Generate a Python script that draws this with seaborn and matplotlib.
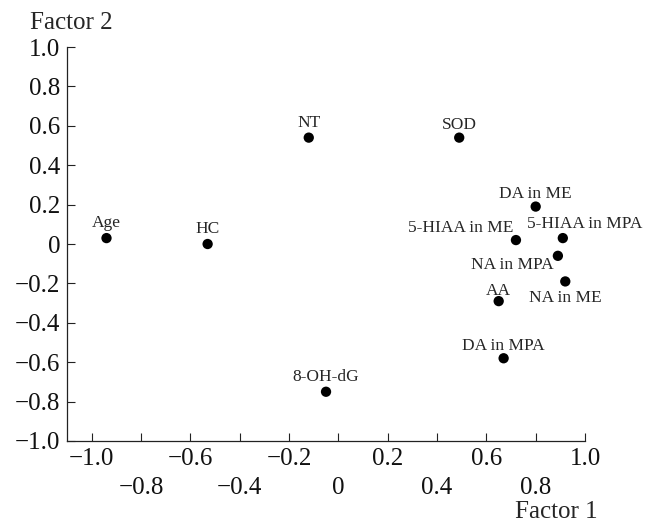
import matplotlib
matplotlib.use("Agg")
import matplotlib.pyplot as plt
import seaborn as sns
import pandas as pd

# factor loadings
names = ["Age", "HC", "NT", "SOD", "DA in ME", "5-HIAA in ME", "5-HIAA in MPA",
         "NA in MPA", "NA in ME", "AA", "DA in MPA", "8-OH-dG"]
factor1 = [-0.94, -0.53, -0.12, 0.49, 0.80, 0.72, 0.91, 0.89, 0.92, 0.65, 0.67, -0.05]
factor2 = [0.03, 0.00, 0.54, 0.54, 0.19, 0.02, 0.03, -0.06, -0.19, -0.29, -0.58, -0.75]

x_ticks_top = [-1.0, -0.6, -0.2, 0.2, 0.6, 1.0]
x_ticks_bottom = [-0.8, -0.4, 0.0, 0.4, 0.8]
y_ticks = [-1.0, -0.8, -0.6, -0.4, -0.2, 0.0, 0.2, 0.4, 0.6, 0.8, 1.0]

# label placement: (ha, dx, dy) in points, baseline aligned
label_pos = {
    "Age": ("center", 0, 8),
    "HC": ("center", 0, 8),
    "NT": ("center", 0, 8),
    "SOD": ("center", 0, 6),
    "DA in ME": ("center", 0, 6),
    "5-HIAA in ME": ("right", -2, 6),
    "5-HIAA in MPA": ("center", 16, 7),
    "NA in MPA": ("right", -3, -9.5),
    "NA in ME": ("center", 0, -15),
    "AA": ("center", 0, 4.5),
    "DA in MPA": ("center", 0, 6),
    "8-OH-dG": ("center", 0, 8),
}


def fmt(v):
    if v == 0:
        return "0"
    return f"{v:.1f}".replace("-", "\u2212")


df = pd.DataFrame({"name": names, "f1": factor1, "f2": factor2})

sns.set_style("ticks")
plt.rcParams["font.family"] = ["Liberation Serif", "DejaVu Serif"]

fig = plt.figure(figsize=(6.47, 5.23), dpi=100)
ax = fig.add_axes([0.1036, 0.1568, 0.8006, 0.7533])

sns.scatterplot(data=df, x="f1", y="f2", color="black", s=55, edgecolor="none", ax=ax)

for name, x, y in zip(names, factor1, factor2):
    ha, dx, dy = label_pos[name]
    ax.annotate(name, (x, y), xytext=(dx, dy), textcoords="offset points",
                ha=ha, va="baseline", fontsize=12.5)

ax.set_xlim(-1.1, 1.0)
ax.set_ylim(-1.0, 1.0)
ax.set_xticks(x_ticks_top)
ax.set_xticklabels([fmt(v) for v in x_ticks_top])
ax.set_xticks(x_ticks_bottom, minor=True)
ax.set_xticklabels([fmt(v) for v in x_ticks_bottom], minor=True)
ax.set_yticks(y_ticks)
ax.set_yticklabels([fmt(v) for v in y_ticks])

ax.tick_params(axis="both", which="both", direction="in", length=6, width=0.8,
               labelsize=18, color="#222222", labelcolor="#111111")
ax.tick_params(axis="x", which="major", pad=5)
ax.tick_params(axis="x", which="minor", pad=26)
ax.tick_params(axis="y", pad=5)

for side in ["top", "right"]:
    ax.spines[side].set_visible(False)
for side in ["left", "bottom"]:
    ax.spines[side].set_linewidth(0.9)
    ax.spines[side].set_color("#222222")

ax.set_xlabel("")
ax.set_ylabel("")
fig.text(30 / 647, 1 - 29 / 523, "Factor 2", ha="left", va="baseline", fontsize=18)
fig.text(598 / 647, 1 - 518 / 523, "Factor 1", ha="right", va="baseline", fontsize=18)

fig.savefig("out.png", dpi=100)
